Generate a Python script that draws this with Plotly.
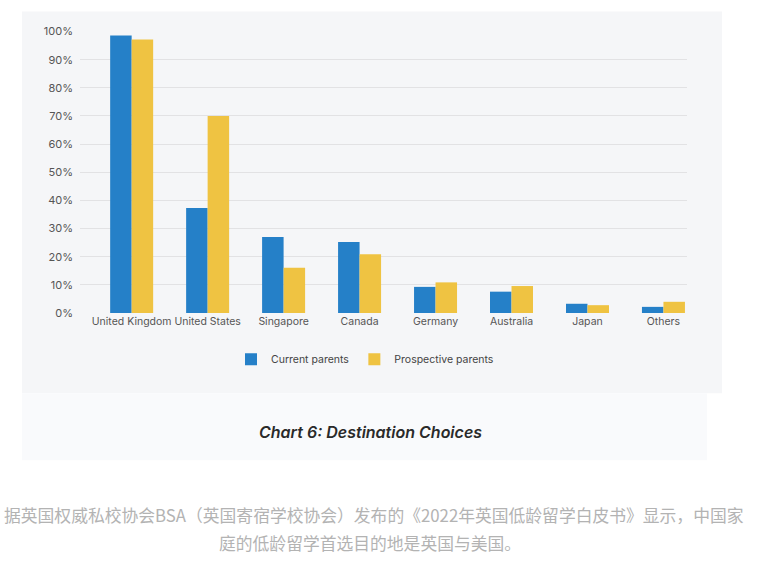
import plotly.graph_objects as go

W, H = 764, 561

categories = ["United Kingdom", "United States", "Singapore", "Canada",
              "Germany", "Australia", "Japan", "Others"]
current_parents = [0.986, 0.373, 0.270, 0.252, 0.093, 0.076, 0.033, 0.022]
prospective_parents = [0.972, 0.700, 0.161, 0.209, 0.109, 0.096, 0.028, 0.040]
y_ticks = [0, 0.1, 0.2, 0.3, 0.4, 0.5, 0.6, 0.7, 0.8, 0.9, 1.0]
y_tick_labels = ["0%", "10%", "20%", "30%", "40%", "50%", "60%", "70%", "80%", "90%", "100%"]

title_text = "Chart 6: Destination Choices"
caption_lines = [
    "据英国权威私校协会BSA（英国寄宿学校协会）发布的《2022年英国低龄留学白皮书》显示，中国家",
    "庭的低龄留学首选目的地是英国与美国。",
]

# effective drawing box observed in the capture (height ~546 starting ~7.5px down)
EFF_TOP, EFF_H = 7.5, 546.0

def px(x):
    return x / W

def py(y):
    return 1 - (y - EFF_TOP) / EFF_H

fig = go.Figure()
fig.add_trace(go.Bar(name="Current parents", x=categories, y=current_parents,
                     marker=dict(color="#2580c8", line=dict(width=0))))
fig.add_trace(go.Bar(name="Prospective parents", x=categories, y=prospective_parents,
                     marker=dict(color="#efc342", line=dict(width=0))))

shapes = [
    dict(type="rect", xref="paper", yref="paper", x0=px(22), x1=px(722), y0=py(393), y1=py(12),
         fillcolor="#f5f6f8", line=dict(width=0), layer="below"),
    dict(type="rect", xref="paper", yref="paper", x0=px(22), x1=px(707), y0=py(460), y1=py(393),
         fillcolor="#f9fafc", line=dict(width=0), layer="below"),
]

annotations = [
    dict(text="<i>" + title_text + "</i>", x=px(370), y=py(432), xref="paper", yref="paper",
         showarrow=False, xanchor="center", yanchor="middle",
         font=dict(family="Inter, Roboto, sans-serif", size=16, color="#2a2a2a", weight=600)),
    dict(text=caption_lines[0], x=px(374), y=py(515), xref="paper", yref="paper",
         showarrow=False, xanchor="center", yanchor="middle",
         font=dict(family="Noto Sans CJK SC", size=16.8, color="#b3b3b3")),
    dict(text=caption_lines[1], x=px(370), y=py(543), xref="paper", yref="paper",
         showarrow=False, xanchor="center", yanchor="middle",
         font=dict(family="Noto Sans CJK SC", size=16.8, color="#b3b3b3")),
]

fig.update_layout(
    width=W, height=H,
    margin=dict(l=0, r=0, t=0, b=0),
    paper_bgcolor="white", plot_bgcolor="rgba(0,0,0,0)",
    barmode="group", bargap=0.434, bargroupgap=0,
    font=dict(family="Inter, Roboto, sans-serif", size=11, color="#555555"),
    shapes=shapes, annotations=annotations,
    legend=dict(orientation="h", x=px(231), y=py(359), xanchor="left", yanchor="middle",
                bgcolor="rgba(0,0,0,0)", font=dict(size=10.5, color="#444444"),
                itemwidth=30, traceorder="normal"),
    xaxis=dict(domain=[px(80), px(687)], range=[-0.68, 7.31], showgrid=False,
               showline=False, zeroline=False, ticks="", tickangle=0,
               tickfont=dict(size=10.5, color="#555555")),
    yaxis=dict(domain=[py(313), py(32)], range=[0, 1.0], tickvals=y_ticks, ticktext=y_tick_labels,
               showgrid=True, gridcolor="#e2e2e4", gridwidth=1, zeroline=False, showline=False,
               ticks="", ticklabelstandoff=6, tickfont=dict(size=11, color="#555555")),
)

fig.write_html("out.html", config={"displayModeBar": False},
               post_script="document.body.style.margin='0';document.body.style.overflow='hidden';")
